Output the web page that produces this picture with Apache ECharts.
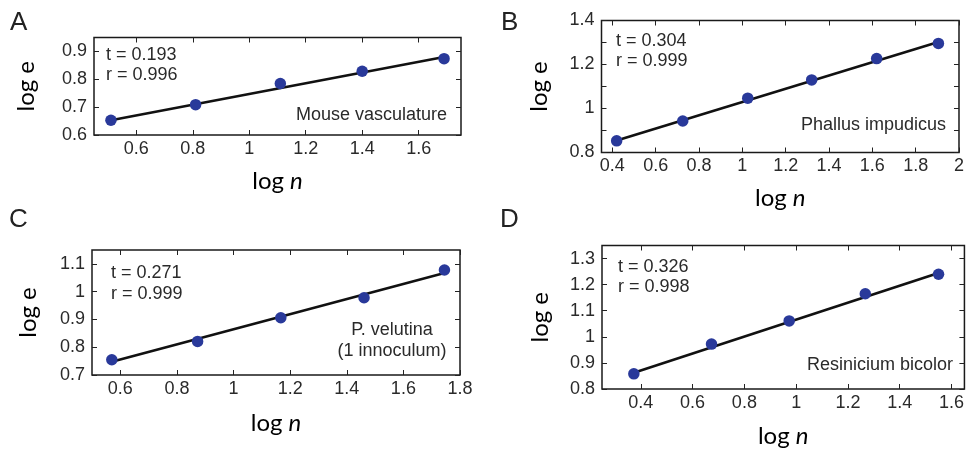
<!DOCTYPE html>
<html><head><meta charset="utf-8">
<script src="https://cdn.jsdelivr.net/npm/echarts@6/dist/echarts.min.js"></script>
<style>html,body{margin:0;padding:0;background:#fff}#c{width:967px;height:449px}</style>
</head><body><div id="c"></div>
<script>
// ---- data ----
const aX = [0.51, 0.81, 1.11, 1.40, 1.69];
const aY = [0.653, 0.709, 0.785, 0.829, 0.874];
const bX = [0.42, 0.725, 1.025, 1.32, 1.62, 1.905];
const bY = [0.853, 0.943, 1.047, 1.130, 1.227, 1.296];
const cX = [0.57, 0.873, 1.167, 1.461, 1.745];
const cY = [0.755, 0.821, 0.906, 0.978, 1.078];
const dX = [0.373, 0.673, 0.973, 1.267, 1.55];
const dY = [0.858, 0.972, 1.061, 1.165, 1.240];

// fitted line end points
const fitAX = [0.51, 1.69],  fitAY = [0.653, 0.880];
const fitBX = [0.42, 1.905], fitBY = [0.855, 1.302];
const fitCX = [0.57, 1.745], fitCY = [0.748, 1.067];
const fitDX = [0.373, 1.55], fitDY = [0.862, 1.245];

// ticks and labels
const xTicksA = [0.6, 0.8, 1, 1.2, 1.4, 1.6];
const yTicksA = [0.6, 0.7, 0.8, 0.9];
const xTicksB = [0.4, 0.6, 0.8, 1, 1.2, 1.4, 1.6, 1.8, 2];
const yTicksB = [0.8, 0.9, 1, 1.1, 1.2, 1.3, 1.4];
const yLabelsB = [0.8, 1, 1.2, 1.4];
const xTicksC = [0.6, 0.8, 1, 1.2, 1.4, 1.6, 1.8];
const yTicksC = [0.7, 0.8, 0.9, 1, 1.1];
const xTicksD = [0.4, 0.6, 0.8, 1, 1.2, 1.4, 1.6];
const yTicksD = [0.8, 0.9, 1, 1.1, 1.2, 1.3];

// texts
const panelLetters = ['A', 'B', 'C', 'D'];
const statsA = ['t = 0.193', 'r = 0.996'];
const statsB = ['t = 0.304', 'r = 0.999'];
const statsC = ['t = 0.271', 'r = 0.999'];
const statsD = ['t = 0.326', 'r = 0.998'];
const speciesA = ['Mouse vasculature'];
const speciesB = ['Phallus impudicus'];
const speciesC = ['P. velutina', '(1 innoculum)'];
const speciesD = ['Resinicium bicolor'];

// ---- layout ----
const SANS = '"Liberation Sans", Arial, Helvetica, sans-serif';
const TITLE = 'Lato, "Open Sans", sans-serif';
const LABEL_COLOR = '#2a2a2a';
const DOT = '#29399a';
const FS = 18;

const panels = [
  {g:{left:94, top:37.5, width:367, height:97.5}, x:[0.45,1.75], y:[0.6,0.95], xt:xTicksA, xl:xTicksA, yt:yTicksA, yl:yTicksA,
   px:aX, py:aY, fx:fitAX, fy:fitAY, xGap:34, yGap:56},
  {g:{left:601.5, top:20.5, width:366, height:132}, x:[0.35,2.0], y:[0.8,1.4], xt:xTicksB, xl:xTicksB, yt:yTicksB, yl:yLabelsB,
   px:bX, py:bY, fx:fitBX, fy:fitBY, xGap:34, yGap:50},
  {g:{left:92, top:250, width:368, height:125}, x:[0.5,1.8], y:[0.7,1.15], xt:xTicksC, xl:xTicksC, yt:yTicksC, yl:yTicksC,
   px:cX, py:cY, fx:fitCX, fy:fitCY, xGap:36, yGap:52},
  {g:{left:602, top:245.5, width:366.5, height:143.5}, x:[0.25,1.65], y:[0.8,1.35], xt:xTicksD, xl:xTicksD, yt:yTicksD, yl:yTicksD,
   px:dX, py:dY, fx:fitDX, fy:fitDY, xGap:35, yGap:50}
];

const grid = [], xAxis = [], yAxis = [], series = [];
const tick = (vals) => ({show:true, inside:true, length:5, customValues:vals, lineStyle:{color:'#222', width:1}});
panels.forEach((p, i) => {
  grid.push(Object.assign({show:true, borderColor:'#1a1a1a', borderWidth:1.5, backgroundColor:'transparent', containLabel:false}, p.g));
  xAxis.push({gridIndex:i, type:'value', position:'bottom', min:p.x[0], max:p.x[1],
    axisLine:{show:false}, splitLine:{show:false}, axisTick:tick(p.xt),
    axisLabel:{customValues:p.xl, margin:5, fontSize:FS, color:LABEL_COLOR, fontFamily:SANS},
    name:'{a|log }{b|n}', nameLocation:'middle', nameGap:p.xGap,
    nameTextStyle:{fontSize:24, fontFamily:TITLE, color:'#000',
      rich:{a:{fontSize:24, fontFamily:TITLE, color:'#000'}, b:{fontSize:24, fontFamily:TITLE, fontStyle:'italic', color:'#000'}}}});
  xAxis.push({gridIndex:i, type:'value', position:'top', min:p.x[0], max:p.x[1],
    axisLine:{show:false}, splitLine:{show:false}, axisTick:tick(p.xt), axisLabel:{show:false}});
  yAxis.push({gridIndex:i, type:'value', position:'left', min:p.y[0], max:p.y[1],
    axisLine:{show:false}, splitLine:{show:false}, axisTick:tick(p.yt),
    axisLabel:{customValues:p.yl, margin:7, fontSize:FS, color:LABEL_COLOR, fontFamily:SANS},
    name:'log e', nameLocation:'middle', nameRotate:90, nameGap:p.yGap,
    nameTextStyle:{fontSize:24, fontFamily:TITLE, color:'#000'}});
  yAxis.push({gridIndex:i, type:'value', position:'right', min:p.y[0], max:p.y[1],
    axisLine:{show:false}, splitLine:{show:false}, axisTick:tick(p.yt), axisLabel:{show:false}});
  series.push({type:'line', xAxisIndex:2*i, yAxisIndex:2*i, data:p.fx.map((v,k)=>[v,p.fy[k]]),
    showSymbol:false, symbol:'none', lineStyle:{color:'#111', width:2.6}, z:2, silent:true});
  series.push({type:'scatter', xAxisIndex:2*i, yAxisIndex:2*i, data:p.px.map((v,k)=>[v,p.py[k]]),
    symbol:'circle', symbolSize:11.5, itemStyle:{color:DOT, opacity:1}, z:3, silent:true});
});

// annotation texts
const txt = (text, x, y, opts) => Object.assign({type:'text', x:x, y:y,
  style:Object.assign({text:text, fill:LABEL_COLOR, font:FS + 'px ' + SANS, verticalAlign:'middle', align:'left'}, opts||{})});
const letter = (text, x, y) => ({type:'text', x:x, y:y, style:{text:text, fill:'#222', font:'26px ' + SANS, verticalAlign:'middle'}});
const graphic = [
  letter(panelLetters[0], 10, 23), letter(panelLetters[1], 501, 23),
  letter(panelLetters[2], 9, 220), letter(panelLetters[3], 500, 220),
  txt(statsA[0], 106, 55), txt(statsA[1], 106, 75),
  txt(speciesA[0], 447, 115, {align:'right'}),
  txt(statsB[0], 616, 41.5), txt(statsB[1], 616, 61.5),
  txt(speciesB[0], 946, 125, {align:'right'}),
  txt(statsC[0], 111, 273.5), txt(statsC[1], 111, 294),
  txt(speciesC[0], 392, 330, {align:'center'}), txt(speciesC[1], 392, 351.5, {align:'center'}),
  txt(statsD[0], 618, 267.5), txt(statsD[1], 618, 287.5),
  txt(speciesD[0], 953, 365, {align:'right'})
];

const chart = echarts.init(document.getElementById('c'), null, {renderer:'canvas'});
chart.setOption({animation:false, backgroundColor:'#fff', grid, xAxis, yAxis, series, graphic});
</script>
</body></html>
